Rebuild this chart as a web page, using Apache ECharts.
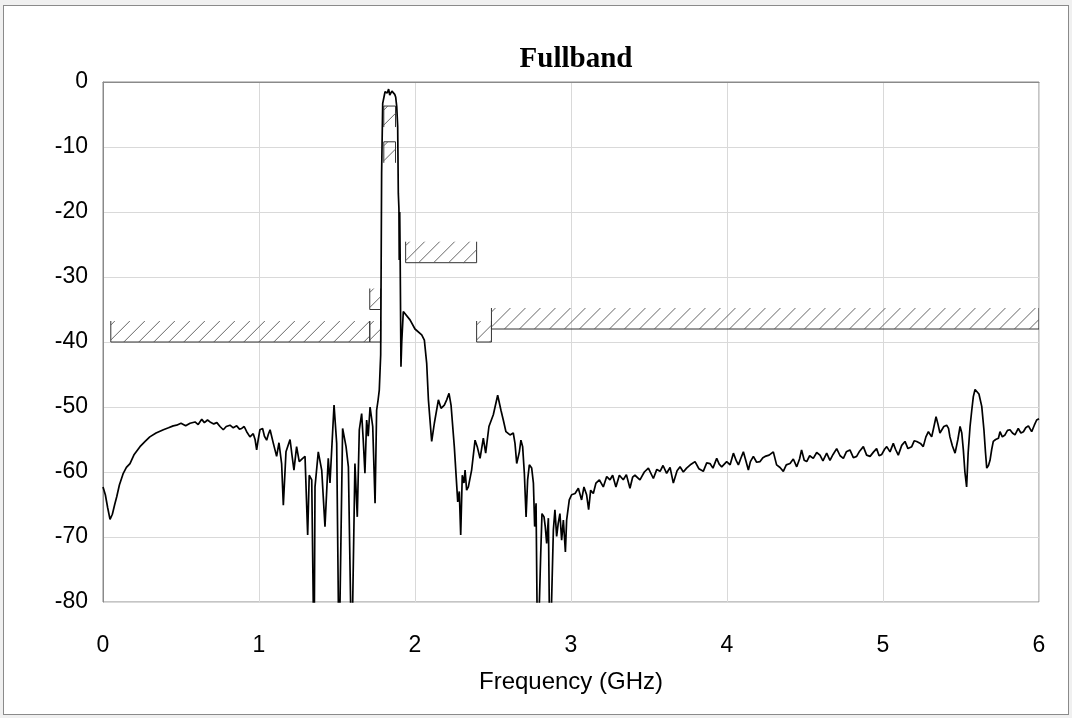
<!DOCTYPE html>
<html>
<head>
<meta charset="utf-8">
<script src="https://cdn.jsdelivr.net/npm/echarts@6/dist/echarts.min.js"></script>
<style>
html,body{margin:0;padding:0;background:#f0f0f0;}
#frame{position:absolute;left:3px;top:5px;width:1066px;height:710px;background:#fff;border:1px solid #8a8a8a;box-sizing:border-box;}
#chart{position:absolute;left:0;top:0;width:1072px;height:718px;}
</style>
</head>
<body>
<div id="frame"></div>
<div id="chart"></div>
<script>
// ---- data ----
const title = 'Fullband';
const xName = 'Frequency (GHz)';
const xTicks = [0, 1, 2, 3, 4, 5, 6];
const yTicks = [0, -10, -20, -30, -40, -50, -60, -70, -80];

const freq = [
0.000,0.015,0.030,0.045,0.060,0.075,0.088,0.105,0.130,0.150,0.173,0.200,0.237,0.270,0.300,0.340,0.387,0.420,0.450,0.472,
0.500,0.530,0.558,0.590,0.610,0.633,0.650,0.670,0.686,0.710,0.730,0.750,0.771,0.790,0.814,0.835,0.857,0.875,0.889,0.905,
0.921,0.942,0.963,0.975,0.985,0.995,1.006,1.023,1.035,1.049,1.060,1.071,1.092,1.113,1.128,1.145,1.156,1.173,1.199,1.212,
1.224,1.241,1.258,1.280,1.295,1.312,1.322,1.338,1.353,1.359,1.380,1.402,1.423,1.444,1.455,1.481,1.498,1.513,1.536,1.558,
1.573,1.594,1.615,1.630,1.643,1.658,1.668,1.679,1.690,1.700,1.712,1.729,1.744,1.754,1.763,1.771,1.780,1.786,1.793,1.808,
1.822,1.831,1.838,1.844,1.852,1.861,1.870,1.876,1.883,1.889,1.893,1.897,1.899,1.902,1.905,1.910,1.915,1.925,1.936,1.968,
2.000,2.043,2.060,2.075,2.086,2.107,2.124,2.150,2.167,2.188,2.203,2.218,2.231,2.252,2.274,2.284,2.293,2.303,2.314,2.321,
2.331,2.342,2.363,2.385,2.399,2.417,2.438,2.453,2.474,2.502,2.530,2.551,2.566,2.583,2.609,2.630,2.641,2.652,2.669,2.679,
2.690,2.701,2.712,2.722,2.733,2.748,2.759,2.767,2.776,2.786,2.797,2.806,2.814,2.827,2.835,2.844,2.855,2.865,2.876,2.887,
2.897,2.908,2.918,2.929,2.940,2.951,2.964,2.972,2.989,3.004,3.026,3.047,3.068,3.083,3.100,3.113,3.126,3.143,3.160,3.182,
3.207,3.229,3.250,3.267,3.288,3.310,3.335,3.355,3.378,3.395,3.410,3.442,3.470,3.496,3.528,3.550,3.571,3.590,3.613,3.635,
3.656,3.680,3.699,3.720,3.741,3.770,3.795,3.820,3.848,3.870,3.891,3.910,3.934,3.950,3.966,3.998,4.020,4.041,4.060,4.073,
4.090,4.105,4.120,4.137,4.150,4.169,4.190,4.212,4.230,4.244,4.270,4.297,4.318,4.340,4.361,4.380,4.404,4.425,4.447,4.465,
4.478,4.495,4.511,4.530,4.553,4.575,4.596,4.615,4.639,4.660,4.680,4.703,4.725,4.746,4.765,4.788,4.810,4.831,4.850,4.874,
4.895,4.917,4.940,4.959,4.975,4.992,5.010,5.024,5.045,5.066,5.080,5.098,5.120,5.141,5.160,5.184,5.200,5.216,5.240,5.258,
5.275,5.291,5.312,5.325,5.340,5.352,5.365,5.376,5.390,5.408,5.420,5.429,5.445,5.462,5.480,5.494,5.505,5.515,5.525,5.536,
5.546,5.558,5.569,5.579,5.590,5.600,5.615,5.633,5.647,5.657,5.665,5.676,5.686,5.697,5.707,5.722,5.740,5.750,5.765,5.782,
5.798,5.814,5.830,5.846,5.867,5.884,5.900,5.915,5.932,5.953,5.970,5.985,6.000
];
const level = [
-62.3,-63.5,-65.5,-67.3,-66.5,-65.0,-63.8,-62.0,-60.2,-59.3,-58.7,-57.3,-56.1,-55.3,-54.6,-54.0,-53.5,-53.2,-52.9,-52.8,
-52.5,-52.9,-52.5,-52.3,-52.7,-51.9,-52.4,-52.0,-52.3,-52.6,-52.4,-53.0,-53.5,-53.0,-52.8,-53.2,-52.9,-53.4,-53.3,-53.0,
-53.8,-54.6,-54.1,-55.0,-56.6,-55.0,-53.5,-53.3,-54.5,-55.1,-54.2,-53.5,-55.6,-57.6,-55.5,-58.7,-65.1,-56.9,-55.0,-57.5,
-59.7,-56.1,-58.4,-57.9,-57.6,-69.7,-60.5,-61.2,-90,-62.3,-56.9,-59.7,-68.4,-57.9,-61.7,-49.7,-55.6,-90,-53.3,-56.1,
-59.2,-90,-58.7,-66.9,-53.5,-51.0,-55.0,-60.2,-52.0,-54.5,-50.0,-53.0,-64.8,-50.5,-49.0,-47.4,-42.0,-14.0,-3.3,-1.5,
-1.7,-1.1,-2.0,-2.0,-1.4,-1.6,-1.9,-2.3,-3.8,-6.9,-17.1,-19.5,-27.4,-20.0,-27.4,-43.8,-40.0,-35.3,-35.2,-36.6,
-38.0,-38.9,-39.7,-43.3,-48.9,-55.3,-52.5,-48.9,-50.2,-49.7,-48.9,-47.9,-49.7,-56.1,-64.6,-63.0,-69.7,-60.5,-61.7,-59.7,
-62.8,-62.3,-59.7,-55.1,-56.1,-57.9,-54.8,-57.1,-53.0,-51.2,-48.2,-50.5,-52.0,-53.8,-54.3,-54.0,-55.6,-58.7,-56.9,-55.1,
-56.1,-60.2,-66.9,-61.2,-58.9,-59.4,-61.7,-68.4,-64.8,-90,-90,-72.5,-66.4,-66.9,-68.4,-71.0,-67.1,-90,-90,-68.9,
-65.8,-69.9,-67.9,-66.4,-70.5,-67.4,-72.3,-67.4,-64.3,-63.5,-63.3,-62.5,-64.3,-62.3,-63.5,-65.8,-62.8,-63.3,-61.7,-61.2,
-62.3,-60.7,-61.2,-60.5,-62.3,-60.5,-61.2,-60.4,-62.5,-60.8,-60.5,-61.2,-60.0,-59.4,-61.0,-59.6,-59.9,-59.0,-60.2,-59.3,
-61.7,-59.8,-59.2,-60.0,-59.4,-58.8,-58.4,-59.5,-59.9,-58.6,-58.7,-59.4,-57.9,-58.8,-59.2,-58.4,-58.9,-57.1,-58.3,-58.9,
-57.8,-56.9,-58.2,-59.7,-58.4,-57.6,-58.5,-58.4,-57.8,-57.6,-57.4,-56.9,-58.9,-59.3,-59.9,-58.9,-58.7,-58.0,-59.2,-58.0,
-56.6,-58.2,-58.4,-57.5,-57.9,-57.0,-57.4,-58.3,-57.1,-58.2,-57.3,-56.4,-57.5,-57.9,-56.9,-56.6,-57.8,-57.6,-56.8,-56.1,
-57.4,-57.6,-56.9,-56.4,-57.5,-57.3,-56.5,-56.1,-56.9,-55.6,-56.5,-57.4,-55.9,-55.3,-56.4,-56.1,-55.2,-55.3,-55.6,-56.1,
-54.6,-53.8,-54.6,-53.2,-51.5,-52.6,-54.0,-54.0,-53.0,-52.8,-53.3,-54.6,-56.0,-57.1,-55.0,-53.0,-54.0,-56.6,-60.0,-62.3,
-57.0,-53.0,-50.5,-48.4,-47.3,-47.0,-48.0,-49.9,-53.5,-57.0,-59.4,-59.0,-58.2,-56.5,-55.3,-55.0,-54.8,-53.8,-54.6,-54.3,
-53.6,-53.5,-54.0,-54.3,-53.3,-54.0,-53.8,-53.2,-52.9,-53.8,-52.8,-52.0,-51.8
];

// limit mask segments: [startGHz, endGHz, limit dB]
const stopMaskStart = [0.05, 1.71, 1.71, 1.94, 2.395, 2.49];
const stopMaskEnd   = [1.71, 1.78, 1.78, 2.395, 2.49, 6.0];
const stopMaskLevel = [-40, -40, -35, -27.8, -40, -38];
const passMaskStart = [1.80, 1.80];
const passMaskEnd   = [1.875, 1.875];
const passMaskLevel = [-3.7, -9.2];

// ---- build ----
const trace = freq.map((f, i) => [f, level[i]]);
const maskData = [];
stopMaskStart.forEach((s, i) => maskData.push([s, stopMaskEnd[i], stopMaskLevel[i], 1]));
passMaskStart.forEach((s, i) => maskData.push([s, passMaskEnd[i], passMaskLevel[i], -1]));

const HATCH_H = 21, HATCH_STEP = 15;
function renderMask(params, api) {
  const f1 = api.value(0), f2 = api.value(1), lv = api.value(2), dir = api.value(3);
  const p1 = api.coord([f1, lv]), p2 = api.coord([f2, lv]);
  const x1 = p1[0], x2 = p2[0], yb = p1[1];
  const ye = yb - dir * HATCH_H;
  const yTop = Math.min(yb, ye), yBot = Math.max(yb, ye);
  const H = yBot - yTop;
  const edge = {stroke: '#333', lineWidth: 1};
  const hatch = {stroke: '#555', lineWidth: 0.9};
  const children = [
    {type: 'line', shape: {x1: x1, y1: yb, x2: x2, y2: yb}, style: edge},
    {type: 'line', shape: {x1: x1, y1: yb, x2: x1, y2: ye}, style: edge},
    {type: 'line', shape: {x1: x2, y1: yb, x2: x2, y2: ye}, style: edge}
  ];
  for (let s = x1 - H + 4; s < x2; s += HATCH_STEP) {
    let sx = s, sy = yBot, ex = s + H, ey = yTop;
    if (sx < x1) { sy -= (x1 - sx); sx = x1; }
    if (ex > x2) { ey += (ex - x2); ex = x2; }
    if (ex - sx < 0.5) continue;
    children.push({type: 'line', shape: {x1: sx, y1: sy, x2: ex, y2: ey}, style: hatch});
  }
  return {type: 'group', children: children};
}

const chart = echarts.init(document.getElementById('chart'), null, {renderer: 'canvas'});
chart.setOption({
  backgroundColor: 'transparent',
  animation: false,
  title: {
    text: title, left: 571, top: 40, textAlign: 'center',
    textStyle: {fontFamily: 'Liberation Serif', fontWeight: 'bold', fontSize: 29, color: '#000'}
  },
  grid: {left: 103, top: 82, width: 936, height: 520, show: true, borderColor: '#8a8a8a', borderWidth: 1, backgroundColor: 'transparent'},
  xAxis: {
    type: 'value', min: xTicks[0], max: xTicks[xTicks.length - 1], interval: 1,
    name: xName, nameLocation: 'middle', nameGap: 68,
    nameTextStyle: {fontFamily: 'Liberation Sans', fontSize: 24, color: '#000'},
    axisLine: {show: true, lineStyle: {color: '#8a8a8a'}},
    axisTick: {show: false},
    axisLabel: {margin: 32, fontFamily: 'Liberation Sans', fontSize: 23, color: '#000'},
    splitLine: {show: true, lineStyle: {color: '#d9d9d9', width: 1}}
  },
  yAxis: {
    type: 'value', min: yTicks[yTicks.length - 1], max: yTicks[0], interval: 10,
    axisLine: {show: true, lineStyle: {color: '#8a8a8a'}},
    axisTick: {show: false},
    axisLabel: {margin: 15, fontFamily: 'Liberation Sans', fontSize: 23, color: '#000'},
    splitLine: {show: true, lineStyle: {color: '#d9d9d9', width: 1}}
  },
  series: [
    {
      type: 'custom', renderItem: renderMask, data: maskData,
      encode: {x: [0, 1], y: 2}, silent: true, clip: true, z: 2
    },
    {
      type: 'line', data: trace, showSymbol: false, symbol: 'none', clip: true,
      lineStyle: {color: '#000', width: 1.7}, z: 3
    }
  ]
});
</script>
</body>
</html>
